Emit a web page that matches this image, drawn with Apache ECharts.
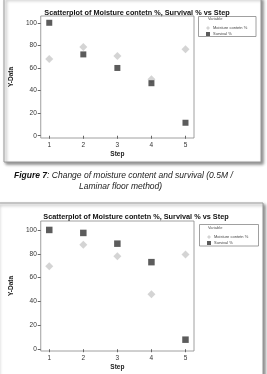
<!DOCTYPE html>
<html>
<head>
<meta charset="utf-8">
<script src="https://cdn.jsdelivr.net/npm/echarts@6/dist/echarts.min.js"></script>
<style>
html,body{margin:0;padding:0;background:#fff;}
#main{width:267px;height:374px;}
</style>
</head>
<body>
<div id="main"></div>
<script>
// 数据
const steps = [1, 2, 3, 4, 5];
const yTicks = [0, 20, 40, 60, 80, 100];
const moisture1 = [68, 78.5, 70.5, 50, 76.5];
const survival1 = [100, 72, 60, 46.5, 11.5];
const moisture2 = [69.5, 87.5, 78, 46, 79.5];
const survival2 = [100, 97.5, 88.5, 73, 8];

const titleText = 'Scatterplot of Moisture contetn %, Survival % vs Step';
const nameM = 'Moisture contetn %';
const nameS = 'Survival %';

function pts(arr) {
	return steps.map(function (s, i) { return [s, arr[i]]; });
}

const font = 'Liberation Sans';
const light = '#c9c9c9';
const dark = '#333333';

function mkX(idx) {
	return {
		gridIndex: idx, type: 'value', min: 0.75, max: 5.25,
		name: 'Step', nameLocation: 'middle', nameGap: 13,
		nameTextStyle: {fontSize: 6.5, fontWeight: 'bold', color: '#222', fontFamily: font},
		axisLine: {show: false},
		axisTick: {length: 3, customValues: steps, lineStyle: {color: '#666'}},
		axisLabel: {customValues: steps, fontSize: 6.5, color: '#333', margin: 4, fontFamily: font},
		splitLine: {show: false}
	};
}
function mkY(idx, min, max, gap) {
	return {
		gridIndex: idx, type: 'value', min: min, max: max,
		name: 'Y-Data', nameLocation: 'middle', nameGap: gap,
		nameTextStyle: {fontSize: 6.5, fontWeight: 'bold', color: '#222', fontFamily: font},
		axisLine: {show: false},
		axisTick: {length: 3, customValues: yTicks, lineStyle: {color: '#666'}},
		axisLabel: {customValues: yTicks, fontSize: 6.5, color: '#333', margin: 4, fontFamily: font},
		splitLine: {show: false}
	};
}
function mkSeries(name, idx, arr, sym, color, size) {
	return {
		name: name, type: 'scatter', xAxisIndex: idx, yAxisIndex: idx,
		symbol: sym, symbolSize: size, clip: false,
		itemStyle: {color: color},
		data: pts(arr)
	};
}
function legendBox(x, y, w, h) {
	return {type: 'rect', shape: {x: x, y: y, width: w, height: h},
		style: {fill: '#fff', stroke: '#888', lineWidth: 0.8}};
}
function frame(x, y, w, h) {
	return {type: 'rect', z: -10, shape: {x: x, y: y, width: w, height: h},
		style: {fill: '#fff', stroke: '#999', lineWidth: 1, shadowBlur: 3, shadowOffsetX: 2, shadowOffsetY: 2, shadowColor: 'rgba(0,0,0,0.45)'}};
}

const chart = echarts.init(document.getElementById('main'), null, {renderer: 'canvas'});

const option = {
	animation: false,
	backgroundColor: '#fff',
	title: [
		{text: titleText, left: 132, top: 4, textAlign: 'center',
			textStyle: {fontSize: 7.3, fontWeight: 'bold', color: '#111', fontFamily: font}},
		{text: titleText, left: 131, top: 208.5, textAlign: 'center',
			textStyle: {fontSize: 7.3, fontWeight: 'bold', color: '#111', fontFamily: font}}
	],
	grid: [
		{left: 37, top: 16, width: 157, height: 122, show: true, borderColor: '#888', borderWidth: 0.8, backgroundColor: '#fff'},
		{left: 32, top: 221, width: 162, height: 130, show: true, borderColor: '#888', borderWidth: 0.8, backgroundColor: '#fff'}
	],
	xAxis: [mkX(0), mkX(1)],
	yAxis: [mkY(0, -2, 106, 18), mkY(1, -1.5, 107.5, 20)],
	legend: [
		{orient: 'vertical', left: 201, top: 21, itemWidth: 4, itemHeight: 4, itemGap: 2,
			textStyle: {fontSize: 4, color: '#444', fontFamily: font, padding: [0, 0, 0, -2]},
			data: [nameM, nameS]},
		{orient: 'vertical', left: 202, top: 230, itemWidth: 4, itemHeight: 4, itemGap: 2,
			textStyle: {fontSize: 4, color: '#444', fontFamily: font, padding: [0, 0, 0, -2]},
			data: [nameM, nameS]}
	],
	graphic: [
		frame(4, -2, 257, 164),
		frame(-3, 203, 266, 180),
		legendBox(198.5, 16.5, 57.5, 20),
		legendBox(199.5, 224.5, 59, 21.5),
		{type: 'text', left: 208, top: 17, style: {text: 'Variable', fontSize: 4, fill: '#555', fontFamily: font}},
		{type: 'text', left: 208, top: 225.5, style: {text: 'Variable', fontSize: 4, fill: '#555', fontFamily: font}},
		{type: 'text', left: 14, top: 171, style: {
			text: '{b|Figure 7}{n|: Change of moisture content and survival (0.5M /}',
			rich: {
				b: {fontSize: 8.5, fontStyle: 'italic', fontWeight: 'bold', fill: '#111', fontFamily: font},
				n: {fontSize: 8.5, fontStyle: 'italic', fill: '#222', fontFamily: font}
			}}},
		{type: 'text', left: 79, top: 182.5, style: {
			text: 'Laminar floor method)', fontSize: 8.5, fontStyle: 'italic', fill: '#222', fontFamily: font}}
	],
	series: [
		mkSeries(nameM, 0, moisture1, 'diamond', light, [8, 8]),
		mkSeries(nameS, 0, survival1, 'rect', dark, [6, 6]),
		mkSeries(nameM, 1, moisture2, 'diamond', light, [8, 8]),
		mkSeries(nameS, 1, survival2, 'rect', dark, [6.5, 6.5])
	]
};

chart.setOption(option);
window.onresize = chart.resize;
</script>
</body>
</html>
